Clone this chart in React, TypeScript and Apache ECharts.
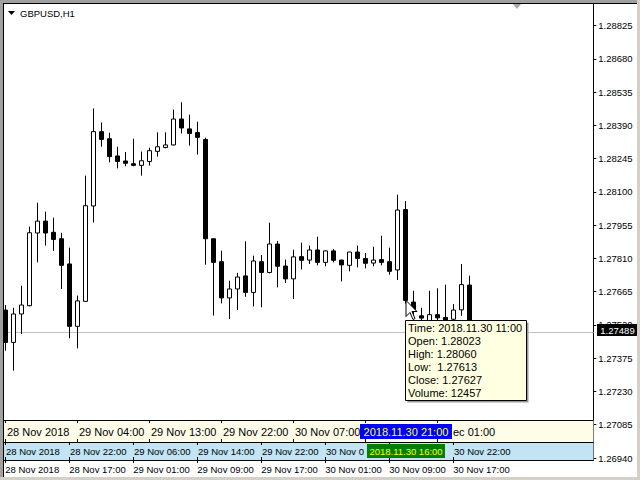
import React, { useEffect, useRef } from "react";
import * as echarts from "echarts";

// ---------- data ----------
const symbolTitle = "GBPUSD,H1";

const categories = [
  "2018.11.28 09:00", "2018.11.28 10:00", "2018.11.28 11:00", "2018.11.28 12:00", "2018.11.28 13:00",
  "2018.11.28 14:00", "2018.11.28 15:00", "2018.11.28 16:00", "2018.11.28 17:00", "2018.11.28 18:00",
  "2018.11.28 19:00", "2018.11.28 20:00", "2018.11.28 21:00", "2018.11.28 22:00", "2018.11.28 23:00",
  "2018.11.29 00:00", "2018.11.29 01:00", "2018.11.29 02:00", "2018.11.29 03:00", "2018.11.29 04:00",
  "2018.11.29 05:00", "2018.11.29 06:00", "2018.11.29 07:00", "2018.11.29 08:00", "2018.11.29 09:00",
  "2018.11.29 10:00", "2018.11.29 11:00", "2018.11.29 12:00", "2018.11.29 13:00", "2018.11.29 14:00",
  "2018.11.29 15:00", "2018.11.29 16:00", "2018.11.29 17:00", "2018.11.29 18:00", "2018.11.29 19:00",
  "2018.11.29 20:00", "2018.11.29 21:00", "2018.11.29 22:00", "2018.11.29 23:00",
  "2018.11.30 00:00", "2018.11.30 01:00", "2018.11.30 02:00", "2018.11.30 03:00", "2018.11.30 04:00",
  "2018.11.30 05:00", "2018.11.30 06:00", "2018.11.30 07:00", "2018.11.30 08:00", "2018.11.30 09:00",
  "2018.11.30 10:00", "2018.11.30 11:00", "2018.11.30 12:00", "2018.11.30 13:00", "2018.11.30 14:00",
  "2018.11.30 15:00", "2018.11.30 16:00", "2018.11.30 17:00", "2018.11.30 18:00", "2018.11.30 19:00",
  // empty slots (chart shift)
  "2018.11.30 20:00", "2018.11.30 21:00", "2018.11.30 22:00", "2018.11.30 23:00",
  "2018.12.01 00:00", "2018.12.01 01:00", "2018.12.01 02:00", "2018.12.01 03:00", "2018.12.01 04:00",
  "2018.12.01 05:00", "2018.12.01 06:00", "2018.12.01 07:00", "2018.12.01 08:00", "2018.12.01 09:00",
  "2018.12.01 10:00",
];

const opens = [
  1.27585, 1.27444, 1.27568, 1.27604, 1.27921, 1.27973, 1.27924, 1.27896, 1.27786, 1.27514,
  1.27623, 1.28039, 1.28363, 1.28332, 1.28257, 1.28235, 1.28223, 1.28216, 1.28233, 1.28277,
  1.28294, 1.28305, 1.28418, 1.28375, 1.28359, 1.28329, 1.27896, 1.27796, 1.27638, 1.27677,
  1.27734, 1.27662, 1.27796, 1.27749, 1.27873, 1.27777, 1.27721, 1.27818, 1.27803, 1.27847,
  1.27793, 1.27843, 1.27803, 1.27780, 1.27838, 1.27810, 1.27790, 1.27805, 1.27796, 1.27760,
  1.28023, 1.27620, 1.27560, 1.27530, 1.27565, 1.27553, 1.27545, 1.27586, 1.27694,
];
const highs = [
  1.27607, 1.27595, 1.27691, 1.27949, 1.28053, 1.28014, 1.27988, 1.27922, 1.27857, 1.27648,
  1.28171, 1.28464, 1.28403, 1.28358, 1.28297, 1.28274, 1.28332, 1.28276, 1.28293, 1.28360,
  1.28360, 1.28459, 1.28491, 1.28437, 1.28406, 1.28337, 1.27896, 1.27844, 1.27713, 1.27747,
  1.27885, 1.27822, 1.27825, 1.27966, 1.27886, 1.27805, 1.27848, 1.27879, 1.27866, 1.27905,
  1.27845, 1.27851, 1.27804, 1.27839, 1.27866, 1.27834, 1.27861, 1.27909, 1.27857, 1.28088,
  1.28060, 1.27669, 1.27595, 1.27669, 1.27680, 1.27696, 1.27611, 1.27786, 1.27735,
];
const lows = [
  1.27408, 1.27321, 1.27481, 1.27601, 1.27793, 1.27866, 1.27843, 1.27677, 1.27462, 1.27418,
  1.27620, 1.27967, 1.28297, 1.28229, 1.28203, 1.28212, 1.28212, 1.28171, 1.28215, 1.28254,
  1.28290, 1.28303, 1.28355, 1.28302, 1.28263, 1.27783, 1.27561, 1.27614, 1.27546, 1.27585,
  1.27643, 1.27601, 1.27597, 1.27745, 1.27684, 1.27703, 1.27633, 1.27762, 1.27786, 1.27780,
  1.27776, 1.27793, 1.27710, 1.27754, 1.27771, 1.27767, 1.27776, 1.27780, 1.27739, 1.27716,
  1.27613, 1.27560, 1.27505, 1.27500, 1.27510, 1.27490, 1.27515, 1.27560, 1.27470,
];
const closes = [
  1.27444, 1.27568, 1.27607, 1.27922, 1.27973, 1.27921, 1.27893, 1.27780, 1.27514, 1.27625,
  1.28040, 1.28363, 1.28329, 1.28254, 1.28233, 1.28225, 1.28216, 1.28236, 1.28280, 1.28297,
  1.28305, 1.28418, 1.28379, 1.28355, 1.28338, 1.27896, 1.27793, 1.27638, 1.27677, 1.27729,
  1.27662, 1.27799, 1.27749, 1.27873, 1.27776, 1.27721, 1.27817, 1.27802, 1.27847, 1.27793,
  1.27843, 1.27802, 1.27782, 1.27838, 1.27810, 1.27789, 1.27803, 1.27793, 1.27754, 1.28021,
  1.27627, 1.27580, 1.27550, 1.27565, 1.27551, 1.27540, 1.27585, 1.27696, 1.27489,
];

const priceTicks = [
  1.2694, 1.27085, 1.2723, 1.27375, 1.2752, 1.27665, 1.2781, 1.27955,
  1.281, 1.28245, 1.2839, 1.28535, 1.2868, 1.28825,
];
const xTickLabels = [
  "28 Nov 2018", "28 Nov 17:00", "29 Nov 01:00", "29 Nov 09:00",
  "29 Nov 17:00", "30 Nov 01:00", "30 Nov 09:00", "30 Nov 17:00",
];
// visible parts of the time-scale strip labels (the rest is hidden under the cursor labels)
const creamLabels = [
  "28 Nov 2018", "29 Nov 04:00", "29 Nov 13:00", "29 Nov 22:00", "30 Nov 07:00",
];
const creamTailLabel = "ec 01:00";
const blueLabels = [
  "28 Nov 2018", "28 Nov 22:00", "29 Nov 06:00", "29 Nov 14:00", "29 Nov 22:00", "30 Nov 0",
];
const blueTailLabel = "30 Nov 22:00";
const bidPrice = 1.27489;
const hoverIndex = 50;
const hoverVolume = 12457;
const creamCursorLabel = "2018.11.30 21:00";
const blueCursorLabel = "2018.11.30 16:00";

// ---------- layout ----------
const FONT = '"Liberation Sans", Arial, sans-serif';
const GRID_LEFT = 1.3;
const BAR = 8;
const GRID_TOP = 4;
const GRID_H = 456;
const Y_MIN = 1.269313;
const Y_MAX = 1.289195;
const STEP = 8;

function txt(x: number, y: number, text: string, size: number, fill: string, align = "left", z = 7) {
  return {
    type: "text", z, x, y,
    style: { text, fill, fontSize: size, fontFamily: FONT, verticalAlign: "middle", align },
  };
}

function buildGraphic(bidY: number) {
  const g: any[] = [];
  // bid line + price label
  const by = Math.round(bidY) + 0.5;
  g.push({ type: "line", z: 1, shape: { x1: 3.5, y1: by, x2: 593.5, y2: by }, style: { stroke: "#C0C0C0", lineWidth: 1 } });
  g.push({ type: "rect", z: 50, shape: { x: 597, y: by - 8.5, width: 41, height: 12 }, style: { fill: "#000" } });
  g.push(txt(617.5, by - 2.5, bidPrice.toFixed(5), 9.5, "#fff", "center", 51));

  // strips
  g.push({ type: "rect", z: 5, shape: { x: 3.5, y: 420, width: 590, height: 22 }, style: { fill: "#FFFDEA" } });
  g.push({ type: "rect", z: 5, shape: { x: 3.5, y: 442, width: 590, height: 18 }, style: { fill: "#C2E4F5" } });
  [420.5, 442.5].forEach((y) =>
    g.push({ type: "line", z: 6, shape: { x1: 3.5, y1: y, x2: 593.5, y2: y }, style: { stroke: "#000", lineWidth: 1 } })
  );
  for (let i = 0; i < 7; i++) {
    const x = 5.5 + 72 * i;
    g.push({ type: "line", z: 6, shape: { x1: x, y1: 420, x2: x, y2: 423 }, style: { stroke: "#000" } });
    g.push({ type: "line", z: 6, shape: { x1: x, y1: 439, x2: x, y2: 442 }, style: { stroke: "#000" } });
  }
  creamLabels.forEach((t, i) => g.push(txt(5.5 + 72 * i + 1.5, 431.5, t, 11, "#000")));
  g.push(txt(453, 431.5, creamTailLabel, 11, "#000"));
  for (let i = 0; i < 8; i++) {
    const x = 5.5 + 64 * i;
    g.push({ type: "line", z: 6, shape: { x1: x, y1: 442, x2: x, y2: 445 }, style: { stroke: "#000" } });
    g.push({ type: "line", z: 6, shape: { x1: x, y1: 457, x2: x, y2: 460 }, style: { stroke: "#000" } });
  }
  blueLabels.forEach((t, i) => g.push(txt(5.5 + 64 * i + 0.5, 451.5, t, 9.5, "#000")));
  g.push(txt(5.5 + 64 * 7 + 0.5, 451.5, blueTailLabel, 9.5, "#000"));

  // cursor labels
  g.push({ type: "rect", z: 20, shape: { x: 360, y: 424, width: 92, height: 15 }, style: { fill: "#0000FF" } });
  g.push(txt(406, 431.5, creamCursorLabel, 11, "#FFFF00", "center", 21));
  g.push({ type: "rect", z: 20, shape: { x: 367, y: 444, width: 78, height: 14 }, style: { fill: "#008000" } });
  g.push(txt(406, 451, blueCursorLabel, 9.5, "#FFFF00", "center", 21));

  // tooltip
  const tx = 405.5, ty = 320.5, tw = 121, th = 80;
  g.push({ type: "rect", z: 99, shape: { x: tx + 2, y: ty + 2, width: tw, height: th }, style: { fill: "#9a9a9a" } });
  g.push({ type: "rect", z: 100, shape: { x: tx, y: ty, width: tw, height: th }, style: { fill: "#FFFFE1", stroke: "#000", lineWidth: 1 } });
  const lines = [
    `Time: ${categories[hoverIndex]}`,
    `Open: ${opens[hoverIndex].toFixed(5)}`,
    `High: ${highs[hoverIndex].toFixed(5)}`,
    `Low:  ${lows[hoverIndex].toFixed(5)}`,
    `Close: ${closes[hoverIndex].toFixed(5)}`,
    `Volume: ${hoverVolume}`,
  ];
  lines.forEach((t, i) => g.push(txt(tx + 2.5, ty + 7.5 + i * 13, t, 11, "#000", "left", 101)));

  // mouse cursor
  const cx = 406, cy = 300.5;
  const arrow = [[0, 0], [0, 16], [4, 12], [7, 19], [9, 18], [6, 11], [11, 11]].map(([a, b]) => [cx + a, cy + b]);
  g.push({ type: "polygon", z: 102, shape: { points: arrow }, style: { fill: "#fff", stroke: "#000", lineWidth: 1 } });

  // title
  g.push({ type: "polygon", z: 100, shape: { points: [[8, 11], [15, 11], [11.5, 15]] }, style: { fill: "#000" } });
  g.push(txt(20, 13, symbolTitle, 9.5, "#000", "left", 100));
  // chart-shift marker
  g.push({ type: "polygon", z: 100, shape: { points: [[512, 3], [522, 3], [517, 9]] }, style: { fill: "#A8A8A8" } });

  // window frame
  g.push({ type: "rect", z: 200, shape: { x: 0, y: 0, width: 640, height: 3 }, style: { fill: "#A0A0A0" } });
  g.push({ type: "rect", z: 200, shape: { x: 0, y: 0, width: 3, height: 480 }, style: { fill: "#A0A0A0" } });
  g.push({ type: "rect", z: 200, shape: { x: 637, y: 0, width: 3, height: 480 }, style: { fill: "#D4D0C8" } });
  g.push({ type: "rect", z: 200, shape: { x: 0, y: 477, width: 640, height: 3 }, style: { fill: "#D4D0C8" } });
  g.push({ type: "line", z: 201, shape: { x1: 3, y1: 3.5, x2: 637, y2: 3.5 }, style: { stroke: "#000", lineWidth: 1 } });
  g.push({ type: "line", z: 201, shape: { x1: 3.5, y1: 3, x2: 3.5, y2: 477 }, style: { stroke: "#000", lineWidth: 1 } });
  return g;
}

export default function App() {
  const ref = useRef<HTMLDivElement>(null);
  useEffect(() => {
    const chart = echarts.init(ref.current as HTMLDivElement, null, { renderer: "svg" });
    const ohlc = opens.map((o, i) => [o, closes[i], lows[i], highs[i]]);
    const option: any = {
      animation: false,
      backgroundColor: "#ffffff",
      grid: { left: GRID_LEFT, top: GRID_TOP, width: BAR * categories.length, height: GRID_H, containLabel: false },
      xAxis: {
        type: "category",
        data: categories,
        boundaryGap: true,
        axisLine: { show: true, lineStyle: { color: "#000", width: 1 } },
        axisTick: {
          show: true,
          alignWithLabel: true,
          interval: (i: number) => i % STEP === 0 && i / STEP < xTickLabels.length,
          length: 3,
          lineStyle: { color: "#000" },
        },
        axisLabel: {
          interval: 0,
          formatter: (v: string, idx: number) => {
            const i = categories.indexOf(v);
            const k = i >= 0 ? i : idx;
            return k % STEP === 0 && k / STEP < xTickLabels.length ? xTickLabels[k / STEP] : "";
          },
          align: "left",
          margin: 4,
          fontSize: 9.5,
          color: "#000",
          fontFamily: FONT,
        },
        splitLine: { show: false },
      },
      yAxis: {
        type: "value",
        position: "right",
        min: Y_MIN,
        max: Y_MAX,
        axisLine: { show: true, lineStyle: { color: "#000", width: 1 } },
        axisTick: { show: true, length: 3, customValues: priceTicks, lineStyle: { color: "#000" } },
        axisLabel: {
          customValues: priceTicks,
          formatter: (v: number) => v.toFixed(5),
          margin: 5,
          fontSize: 9.5,
          color: "#000",
          fontFamily: FONT,
        },
        splitLine: { show: false },
      },
      series: [
        {
          type: "candlestick",
          data: ohlc,
          barWidth: 4,
          itemStyle: {
            color: "#ffffff",
            color0: "#000000",
            borderColor: "#000000",
            borderColor0: "#000000",
            borderWidth: 1,
          },
          emphasis: { disabled: true },
        },
      ],
    };
    chart.setOption(option);
    const bidY = chart.convertToPixel({ yAxisIndex: 0 }, bidPrice) as number;
    chart.setOption({ graphic: buildGraphic(bidY) });
    return () => chart.dispose();
  }, []);
  return <div ref={ref} style={{ position: "absolute", left: 0, top: 0, width: 640, height: 480 }} />;
}
